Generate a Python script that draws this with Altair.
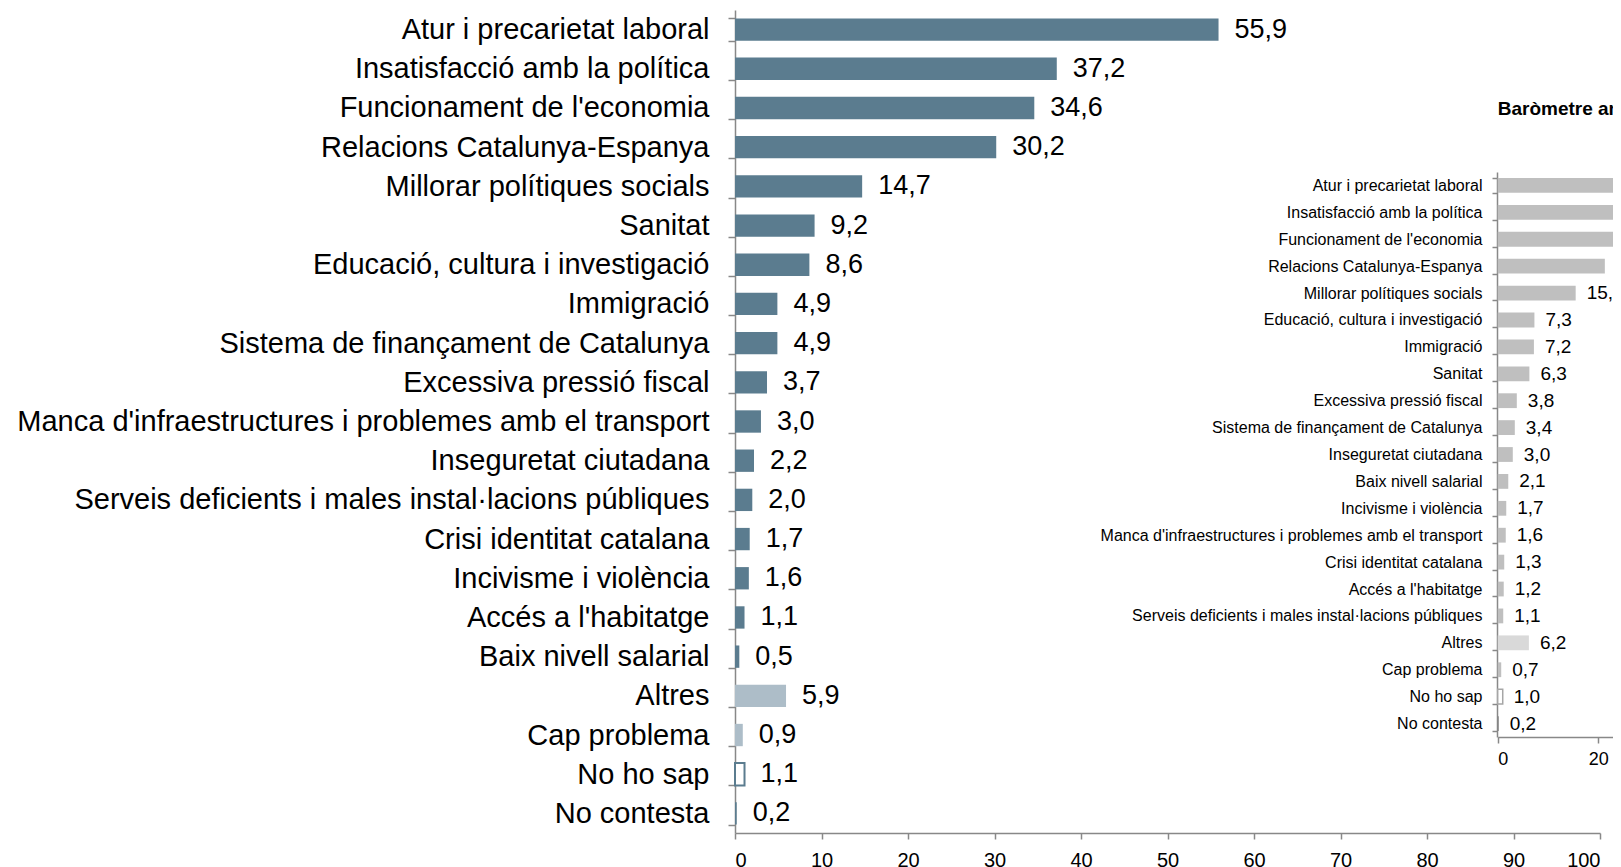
import altair as alt
import pandas as pd

# ---- data: current barometer (main chart) ----
categories_actual = [
    "Atur i precarietat laboral",
    "Insatisfacció amb la política",
    "Funcionament de l'economia",
    "Relacions Catalunya-Espanya",
    "Millorar polítiques socials",
    "Sanitat",
    "Educació, cultura i investigació",
    "Immigració",
    "Sistema de finançament de Catalunya",
    "Excessiva pressió fiscal",
    "Manca d'infraestructures i problemes amb el transport",
    "Inseguretat ciutadana",
    "Serveis deficients i males instal·lacions públiques",
    "Crisi identitat catalana",
    "Incivisme i violència",
    "Accés a l'habitatge",
    "Baix nivell salarial",
    "Altres",
    "Cap problema",
    "No ho sap",
    "No contesta",
]
values_actual = [55.9, 37.2, 34.6, 30.2, 14.7, 9.2, 8.6, 4.9, 4.9, 3.7, 3.0,
                 2.2, 2.0, 1.7, 1.6, 1.1, 0.5, 5.9, 0.9, 1.1, 0.2]

# ---- data: previous barometer (inset, partly cut off) ----
categories_anterior = [
    "Atur i precarietat laboral",
    "Insatisfacció amb la política",
    "Funcionament de l'economia",
    "Relacions Catalunya-Espanya",
    "Millorar polítiques socials",
    "Educació, cultura i investigació",
    "Immigració",
    "Sanitat",
    "Excessiva pressió fiscal",
    "Sistema de finançament de Catalunya",
    "Inseguretat ciutadana",
    "Baix nivell salarial",
    "Incivisme i violència",
    "Manca d'infraestructures i problemes amb el transport",
    "Crisi identitat catalana",
    "Accés a l'habitatge",
    "Serveis deficients i males instal·lacions públiques",
    "Altres",
    "Cap problema",
    "No ho sap",
    "No contesta",
]
values_anterior = [55.1, 33.0, 31.2, 21.3, 15.5, 7.3, 7.2, 6.3, 3.8, 3.4, 3.0,
                   2.1, 1.7, 1.6, 1.3, 1.2, 1.1, 6.2, 0.7, 1.0, 0.2]
title_anterior = "Baròmetre anterior"

special = {"Altres": "altres", "Cap problema": "cap",
           "No ho sap": "nohosap", "No contesta": "nocontesta"}
tipus_domain = ["tema", "altres", "cap", "nohosap", "nocontesta"]


def fmt(v):
    return f"{v:.1f}".replace(".", ",")


def frame(cats, vals):
    df = pd.DataFrame({"cat": cats, "val": vals})
    df["lab"] = df["val"].map(fmt)
    df["tipus"] = df["cat"].map(lambda c: special.get(c, "tema"))
    return df


df_a = frame(categories_actual, values_actual)
df_b = frame(categories_anterior, values_anterior)

FONT = "Liberation Sans"
MAIN = "#5b7c8f"
LIGHT = "#adbdc8"
AXC = "#888888"
PLOT_W = 878
PLOT_H = 823

# ---- main chart ----
y_main = alt.Y(
    "cat:N", sort=categories_actual,
    scale=alt.Scale(range=[0, PLOT_H], paddingInner=0.43, paddingOuter=0.215),
    axis=alt.Axis(title=None, orient="left", labelFontSize=29, labelFont=FONT,
                  labelColor="black", tickSize=7, labelPadding=19, tickBand="extent",
                  domainColor=AXC, tickColor=AXC, domainWidth=1.5, tickWidth=1.5,
                  labelLimit=1500),
)
x_main_scale = alt.Scale(domain=[0, 100], range=[0, 865], nice=False, zero=True)
x_main_axis = alt.Axis(title=None, orient="bottom", values=list(range(0, 101, 10)),
                       grid=False, labelFontSize=20, labelFont=FONT, labelColor="black",
                       tickSize=6, labelPadding=11, domainColor=AXC, tickColor=AXC,
                       domainWidth=1.5, tickWidth=1.5)

main_bars = alt.Chart(df_a).mark_bar().encode(
    x=alt.X("val:Q", scale=x_main_scale, axis=x_main_axis),
    y=y_main,
    fill=alt.Fill("tipus:N", legend=None,
                  scale=alt.Scale(domain=tipus_domain,
                                  range=[MAIN, LIGHT, LIGHT, "white", MAIN])),
    stroke=alt.value(MAIN),
    strokeWidth=alt.condition(alt.datum.tipus == "nohosap", alt.value(2), alt.value(0)),
)
main_text = alt.Chart(df_a).mark_text(
    align="left", baseline="middle", dx=16, fontSize=27, font=FONT, color="black"
).encode(
    x=alt.X("val:Q", scale=x_main_scale, axis=x_main_axis),
    y=y_main,
    text="lab:N",
)
main = alt.layer(main_bars, main_text)

# ---- inset chart (previous barometer) ----
y_ins = alt.Y(
    "cat:N", sort=categories_anterior,
    scale=alt.Scale(range=[162, 727], paddingInner=0.45, paddingOuter=0.225),
    axis=alt.Axis(title=None, orient="left", offset=-762, labelFontSize=16, labelFont=FONT,
                  labelColor="black", tickSize=5, labelPadding=10, tickBand="extent",
                  domainColor=AXC, tickColor=AXC, domainWidth=1.5, tickWidth=1.5,
                  labelLimit=1500),
)
x_ins_scale = alt.Scale(domain=[0, 100], range=[762.7, 1265.7], nice=False, zero=True)
x_ins_axis = alt.Axis(title=None, orient="bottom", offset=-96, values=[0, 20, 40, 60, 80, 100],
                      grid=False, labelFontSize=18, labelFont=FONT, labelColor="black",
                      tickSize=6, labelPadding=7, domainColor=AXC, tickColor=AXC,
                      domainWidth=1.5, tickWidth=1.5)

ins_bars = alt.Chart(df_b).mark_bar().encode(
    x=alt.X("val:Q", scale=x_ins_scale, axis=x_ins_axis),
    y=y_ins,
    fill=alt.Fill("tipus:N", legend=None,
                  scale=alt.Scale(domain=tipus_domain,
                                  range=["#bfbfbf", "#d9d9d9", "#bfbfbf", "white", "#7f7f7f"])),
    stroke=alt.value("#a6a6a6"),
    strokeWidth=alt.condition(alt.datum.tipus == "nohosap", alt.value(1.5), alt.value(0)),
)
ins_text = alt.Chart(df_b).mark_text(
    align="left", baseline="middle", dx=11, fontSize=19, font=FONT, color="black"
).encode(
    x=alt.X("val:Q", scale=x_ins_scale, axis=x_ins_axis),
    y=y_ins,
    text="lab:N",
)
ins_title = alt.Chart(pd.DataFrame({"t": [title_anterior]})).mark_text(
    align="left", baseline="middle", fontSize=19, fontWeight="bold", font=FONT, color="black"
).encode(
    x=alt.X(datum=0, type="quantitative", scale=x_ins_scale, axis=x_ins_axis),
    y=alt.value(99),
    text="t:N",
)
inset = alt.layer(ins_bars, ins_text, ins_title)

chart = (
    alt.layer(main, inset)
    .resolve_scale(x="independent", y="independent", fill="independent")
    .properties(
        width=PLOT_W, height=PLOT_H,
        autosize=alt.AutoSizeParams(type="none"),
        padding={"left": 727, "top": 2, "right": 0, "bottom": 40},
    )
    .configure(font=FONT)
    .configure_view(stroke=None)
)

chart.save("out.html", embed_options={"renderer": "svg", "actions": False})
